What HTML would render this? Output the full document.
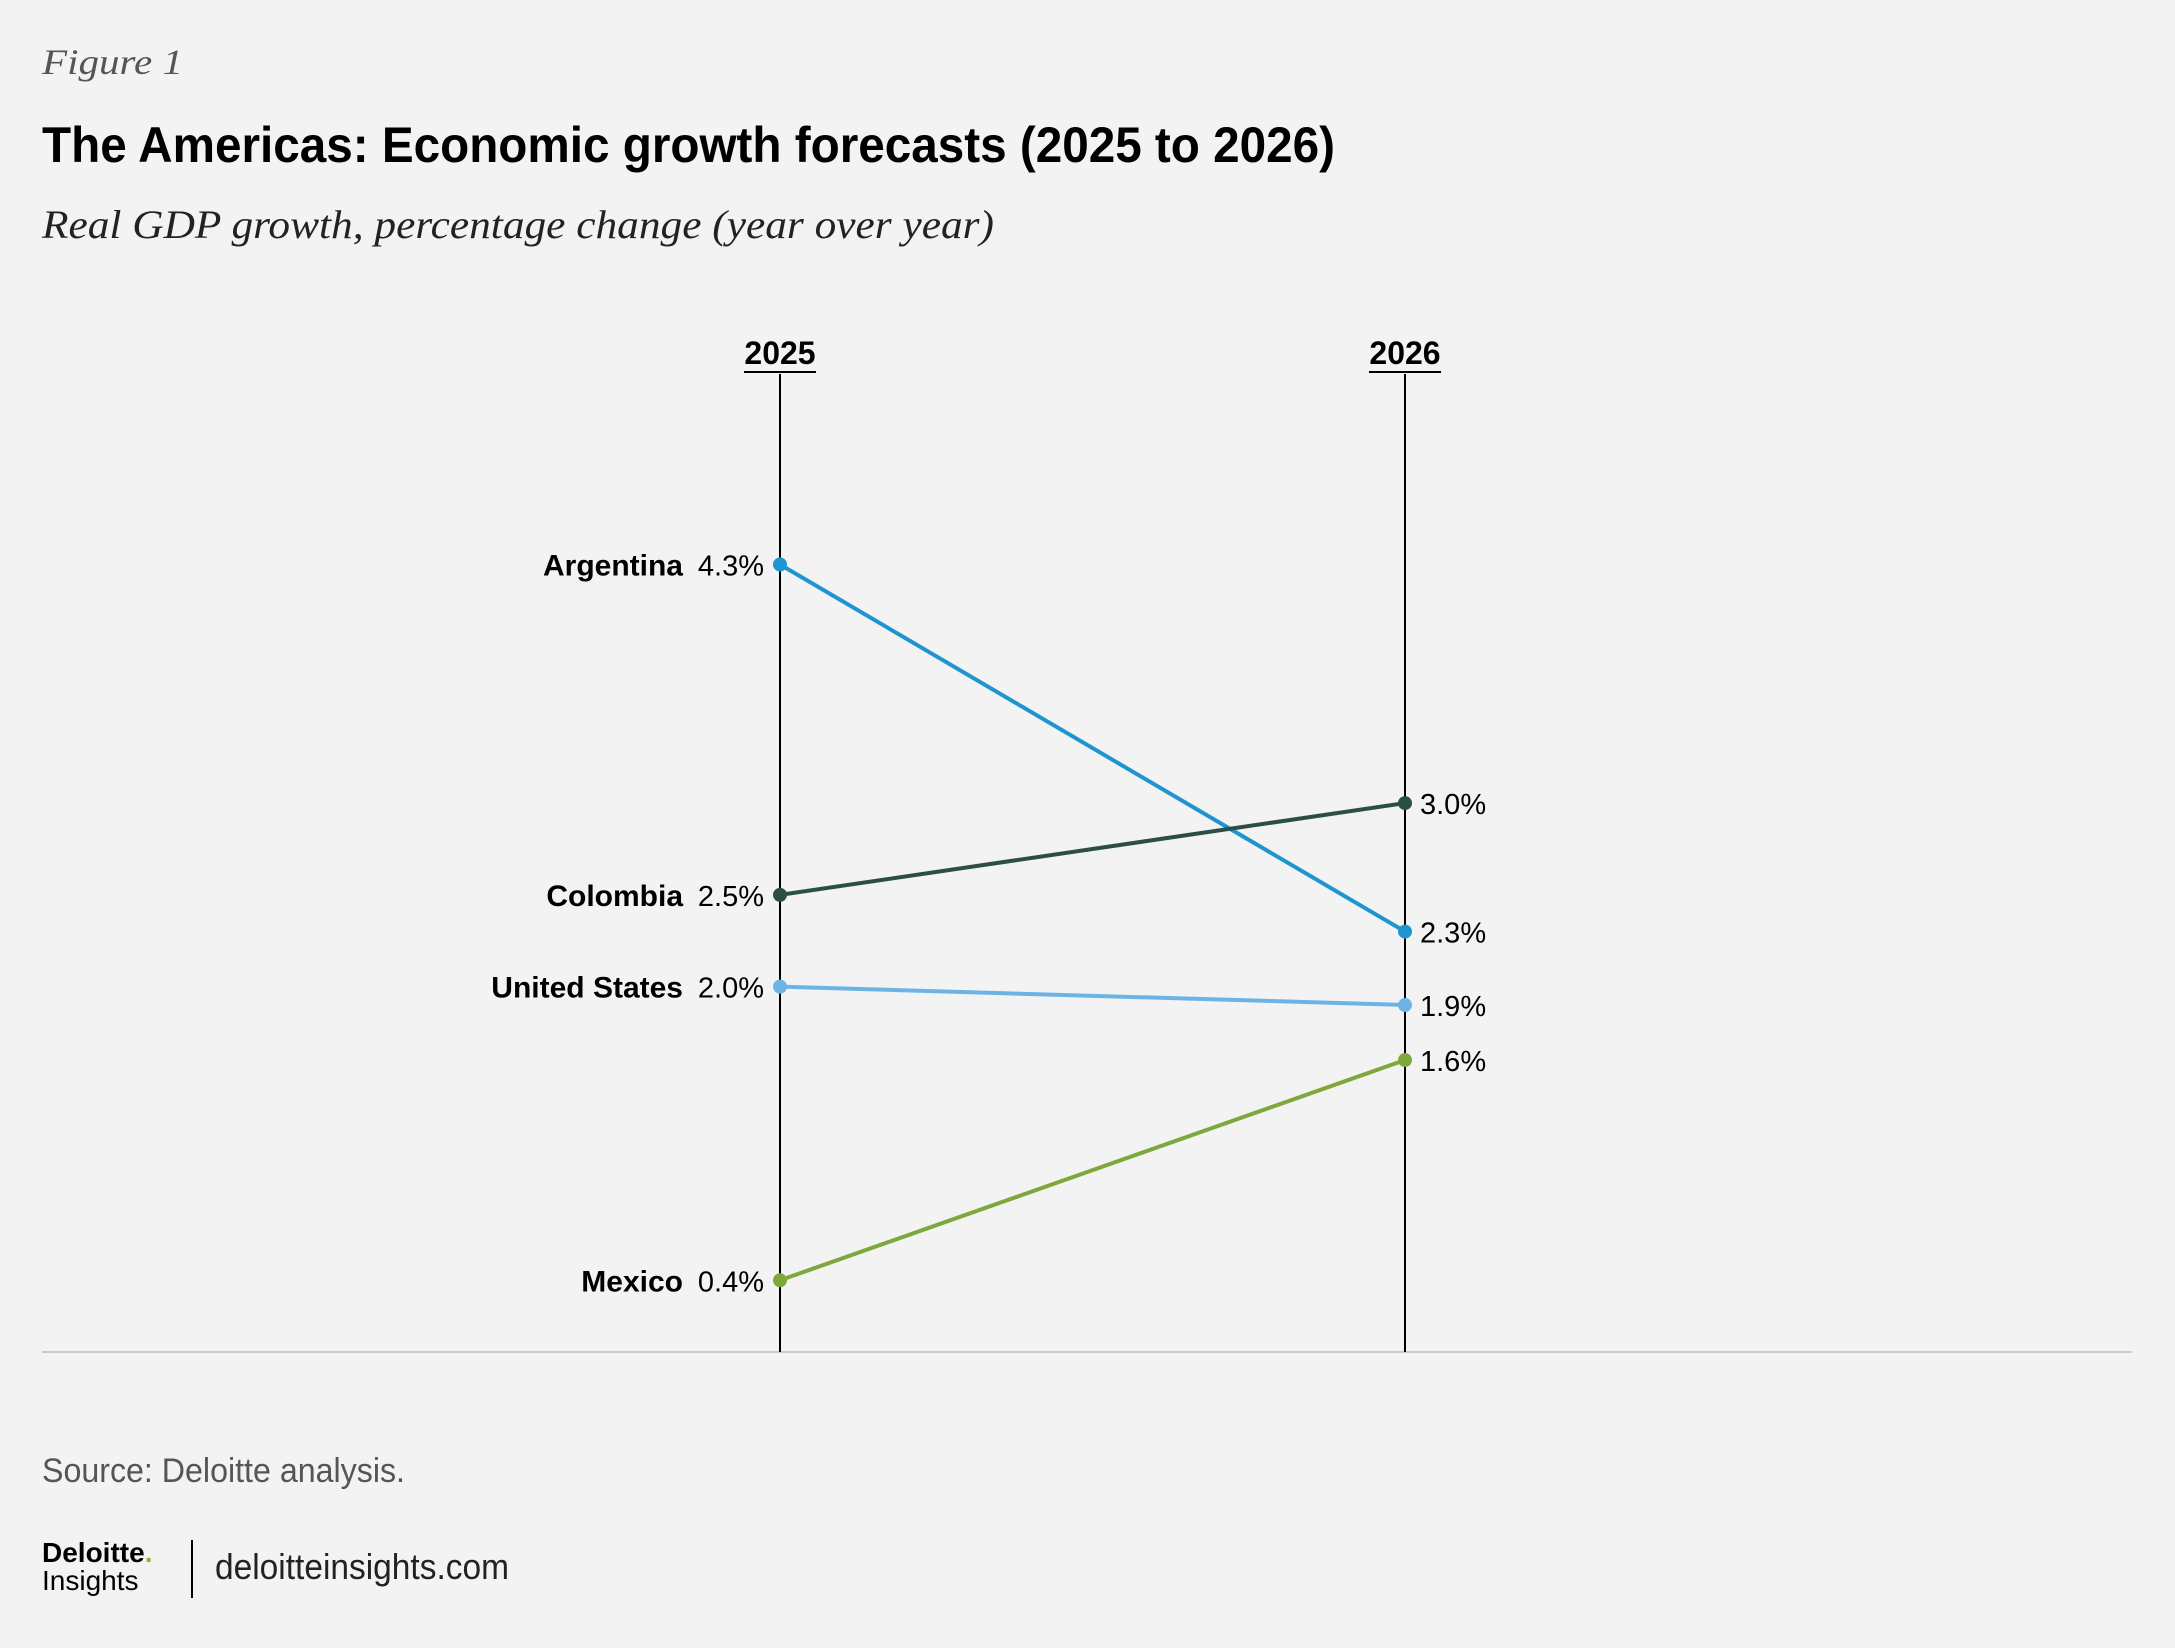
<!DOCTYPE html>
<html><head><meta charset="utf-8"><style>
html,body{margin:0;padding:0;background:#f3f3f3;}
svg{display:block;}
text{font-family:"Liberation Sans Narrow","Liberation Sans",sans-serif;}
.serif{font-family:"Liberation Serif",serif;font-style:italic;}
</style></head><body>
<svg id="chart" width="2175" height="1648" viewBox="0 0 2175 1648">
<rect width="2175" height="1648" fill="#f3f3f3"/>
<text class="serif" x="42" y="74" font-size="36" fill="#555" textLength="141" lengthAdjust="spacingAndGlyphs">Figure 1</text>
<text x="42" y="162" font-size="50" font-weight="bold" fill="#000" textLength="1293" lengthAdjust="spacingAndGlyphs">The Americas: Economic growth forecasts (2025 to 2026)</text>
<text class="serif" x="42" y="238" font-size="40" fill="#222" textLength="952" lengthAdjust="spacingAndGlyphs">Real GDP growth, percentage change (year over year)</text>
<line x1="42" y1="1352" x2="2132" y2="1352" stroke="#ccc" stroke-width="2"/>
<g id="plot"></g>
<text x="42" y="1482" font-size="34" fill="#555" textLength="363" lengthAdjust="spacingAndGlyphs">Source: Deloitte analysis.</text>
<text x="42" y="1562" font-size="28" font-weight="bold" fill="#000">Deloitte<tspan fill="#86bc25">.</tspan></text>
<text x="42" y="1590" font-size="28" fill="#000">Insights</text>
<line x1="192" y1="1540" x2="192" y2="1598" stroke="#000" stroke-width="2"/>
<text x="215" y="1579" font-size="36" fill="#222" textLength="294" lengthAdjust="spacingAndGlyphs">deloitteinsights.com</text>
</svg>
<script>
const countries=["Argentina","Colombia","United States","Mexico"];
const values2025=[4.3,2.5,2.0,0.4];
const values2026=[2.3,3.0,1.9,1.6];
const years=["2025","2026"];
const colors=["#1f95d0","#2b4f45","#6cb4e4","#7ea83b"];
const NS="http://www.w3.org/2000/svg";
const g=document.getElementById("plot");
const xPos=[780,1405];
function y(v){return 564.5+(4.3-v)*(1280.3-564.5)/3.9;}
function mk(tag,attrs,txt){const e=document.createElementNS(NS,tag);for(const k in attrs)e.setAttribute(k,attrs[k]);if(txt!==undefined)e.textContent=txt;g.appendChild(e);return e;}
years.forEach((yr,i)=>{
 let a=mk("line",{x1:xPos[i],y1:374,x2:xPos[i],y2:1352,stroke:"#000","stroke-width":2});
 
 
 let t=mk("text",{x:xPos[i],y:364,"font-size":32,"font-weight":"bold","text-anchor":"middle",fill:"#000"},yr);
 
 
 let u=mk("line",{x1:xPos[i]-36,y1:372,x2:xPos[i]+36,y2:372,stroke:"#000","stroke-width":2});
 
 
});
countries.forEach((c,i)=>{
 const slug=c.toLowerCase().replace(/ /g,'-');
 const y1=y(values2025[i]),y2=y(values2026[i]);
 let l=mk("line",{x1:xPos[0],y1:y1,x2:xPos[1],y2:y2,stroke:colors[i],"stroke-width":4});
 
 
 let d1=mk("circle",{cx:xPos[0],cy:y1,r:7,fill:colors[i]});
 
 
 let d2=mk("circle",{cx:xPos[1],cy:y2,r:7,fill:colors[i]});
 
 
 let n=mk("text",{x:683,y:y1+11,"font-size":30,"font-weight":"bold","text-anchor":"end",fill:"#000"},c);
 
 
 let v1=mk("text",{x:764,y:y1+11,"font-size":29,"text-anchor":"end",fill:"#000"},values2025[i].toFixed(1)+"%");
 
 
 let v2=mk("text",{x:1420,y:y2+11,"font-size":29,fill:"#000"},values2026[i].toFixed(1)+"%");
 
 
});
</script>
</body></html>
